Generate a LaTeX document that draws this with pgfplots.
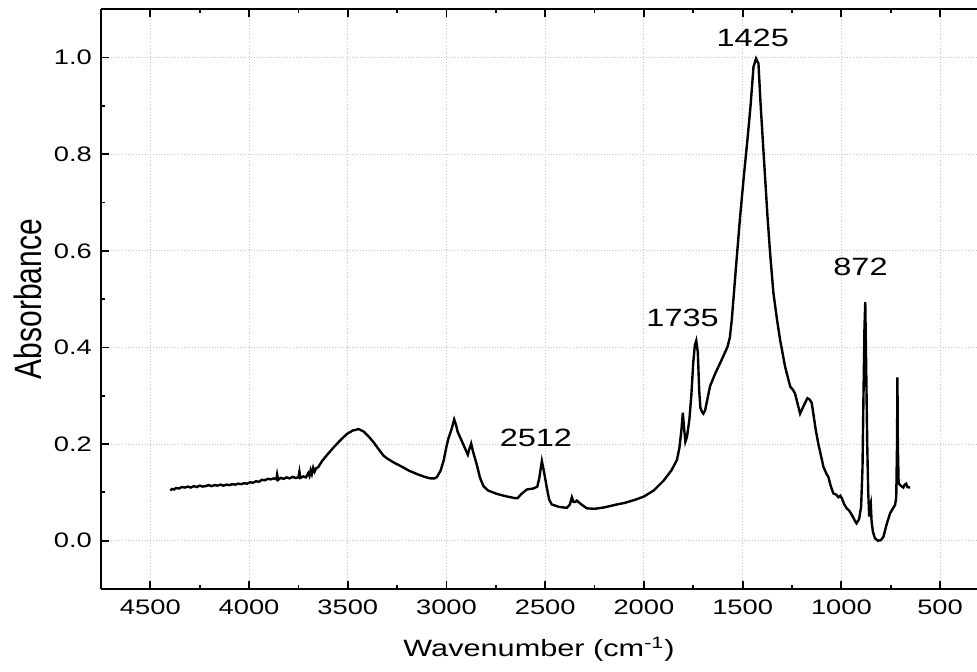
\documentclass[border=0pt]{standalone}
\usepackage{pgfplots}
\pgfplotsset{compat=1.18}
\usepackage{fontspec}
\setmainfont[FakeStretch=1.3]{Liberation Sans}
\newfontfamily\plainfont{Liberation Sans}

% FTIR spectrum, absorbance vs wavenumber
\pgfplotstableread{
wn a
4399 0.104
4390 0.107
4380 0.106
4370 0.109
4355 0.108
4340 0.111
4325 0.110
4310 0.112
4295 0.110
4280 0.113
4265 0.111
4250 0.114
4235 0.112
4220 0.113
4205 0.115
4190 0.113
4175 0.115
4160 0.114
4145 0.116
4130 0.114
4115 0.116
4100 0.115
4085 0.117
4070 0.116
4055 0.118
4040 0.117
4025 0.119
4010 0.118
3995 0.121
3980 0.120
3965 0.123
3950 0.122
3935 0.126
3920 0.125
3905 0.128
3890 0.127
3875 0.129
3862 0.127
3858 0.137
3853 0.126
3840 0.130
3825 0.128
3810 0.131
3795 0.129
3780 0.132
3765 0.130
3750 0.131
3745 0.143
3740 0.130
3725 0.133
3712 0.131
3700 0.140
3694 0.134
3688 0.146
3682 0.138
3675 0.151
3668 0.143
3660 0.150
3650 0.152
3630 0.165
3600 0.180
3572 0.193
3540 0.207
3504 0.221
3475 0.228
3445 0.231
3420 0.226
3395 0.216
3370 0.204
3345 0.190
3319 0.176
3300 0.170
3268 0.162
3230 0.154
3190 0.145
3150 0.138
3110 0.132
3082 0.129
3060 0.129
3048 0.132
3030 0.145
3015 0.165
3000 0.195
2990 0.212
2975 0.230
2961 0.251
2952 0.240
2944 0.226
2930 0.213
2922 0.206
2905 0.190
2892 0.178
2884 0.190
2875 0.201
2866 0.185
2847 0.158
2830 0.130
2813 0.113
2790 0.104
2746 0.097
2700 0.092
2652 0.088
2640 0.088
2620 0.097
2593 0.106
2560 0.108
2540 0.112
2530 0.130
2517 0.165
2505 0.140
2492 0.110
2480 0.085
2467 0.075
2430 0.070
2390 0.068
2375 0.075
2365 0.090
2357 0.080
2348 0.080
2340 0.083
2320 0.076
2289 0.067
2250 0.066
2200 0.069
2137 0.075
2100 0.078
2050 0.084
2002 0.091
1950 0.104
1901 0.124
1860 0.146
1833 0.167
1820 0.193
1810 0.230
1803 0.265
1796 0.230
1790 0.205
1782 0.215
1770 0.250
1760 0.300
1750 0.370
1742 0.405
1735 0.414
1727 0.390
1720 0.310
1714 0.275
1705 0.266
1699 0.263
1690 0.270
1680 0.290
1665 0.320
1640 0.345
1623 0.360
1600 0.380
1577 0.401
1565 0.420
1555 0.457
1535 0.560
1513 0.670
1495 0.750
1476 0.829
1460 0.900
1445 0.981
1432 0.998
1420 0.988
1410 0.910
1398 0.829
1374 0.670
1360 0.590
1344 0.512
1325 0.455
1310 0.415
1285 0.360
1259 0.319
1245 0.312
1235 0.305
1209 0.263
1190 0.280
1172 0.295
1160 0.292
1150 0.285
1142 0.263
1130 0.230
1117 0.201
1100 0.170
1091 0.153
1075 0.138
1066 0.132
1055 0.115
1041 0.098
1025 0.095
1015 0.090
1005 0.093
998 0.088
985 0.075
973 0.067
960 0.062
945 0.052
930 0.040
923 0.036
910 0.045
900 0.070
893 0.150
888 0.300
883 0.440
879 0.494
874 0.350
869 0.200
864 0.100
859 0.050
855 0.070
851 0.077
847 0.040
840 0.018
830 0.005
815 0.000
800 0.001
787 0.008
770 0.035
753 0.057
740 0.066
728 0.074
722 0.090
718 0.200
716 0.338
714 0.200
710 0.119
700 0.114
686 0.110
679 0.116
672 0.118
665 0.111
652 0.110
}\spectrum

\begin{document}
\begin{tikzpicture}
\begin{axis}[
    scale only axis,
    width=438pt, height=289.85pt,
    x dir=reverse,
    xmin=313, xmax=4750,
    ymin=-0.1, ymax=1.1,
    xtick={500,1000,1500,2000,2500,3000,3500,4000,4500},
    xticklabels={500,1000,1500,2000,2500,3000,3500,4000,4500},
    ytick={0,0.2,0.4,0.6,0.8,1.0},
    yticklabels={0.0,0.2,0.4,0.6,0.8,1.0},
    minor x tick num=1,
    minor y tick num=1,
    axis x line=box, axis y line=left,
    axis line style={-, line width=1pt},
    tick align=inside,
    major tick length=4pt, minor tick length=2pt,
    tick style={line width=0.9pt, black},
    grid=major,
    major grid style={densely dotted, gray!45, line width=0.5pt},
    xticklabel style={font=\fontsize{10.5pt}{12pt}\selectfont, yshift=-2pt},
    yticklabel style={font=\fontsize{10.5pt}{12pt}\selectfont, xshift=-1pt},
    xlabel={Wavenumber (cm\textsuperscript{-1})},
    ylabel={Absorbance},
    xlabel style={font=\fontsize{11.8pt}{13pt}\selectfont, yshift=-4pt},
    ylabel style={font=\plainfont\fontsize{15pt}{16pt}\selectfont, yscale=1.27, yshift=-1.25pt},
    clip=false,
]
\addplot[black, line width=1.2pt] table[x=wn, y=a] {\spectrum};
\node[font=\fontsize{12.5pt}{14pt}\selectfont] at (axis cs:1449,1.041) {1425};
\node[font=\fontsize{12.5pt}{14pt}\selectfont] at (axis cs:1804,0.462) {1735};
\node[font=\fontsize{12.5pt}{14pt}\selectfont] at (axis cs:903,0.566) {872};
\node[font=\fontsize{12.5pt}{14pt}\selectfont] at (axis cs:2547,0.213) {2512};
\end{axis}
\pgfresetboundingbox
\useasboundingbox ([shift={(-50.5pt,-41.5pt)}]current axis.south west)
    rectangle ([shift={(0pt,4.65pt)}]current axis.north east);
\end{tikzpicture}
\end{document}
